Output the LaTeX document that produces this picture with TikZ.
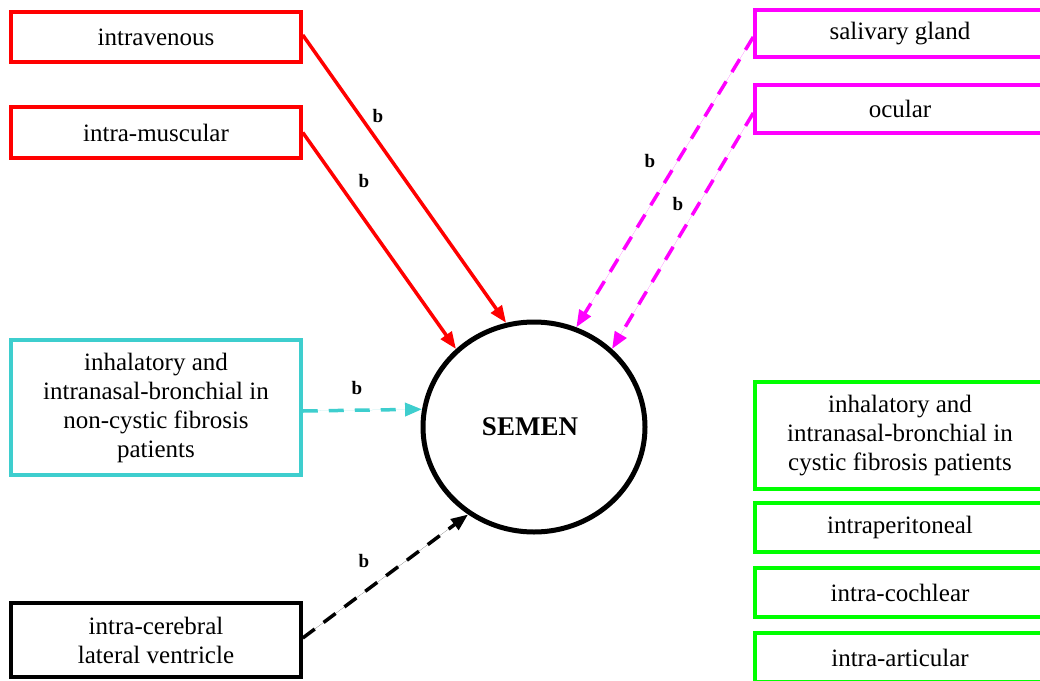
\documentclass[tikz,border=0pt]{standalone}
\usepackage{fontspec}
\setmainfont{Liberation Serif}
\usetikzlibrary{arrows.meta,shapes.geometric,calc}

\definecolor{routered}{RGB}{255,0,0}
\definecolor{routemag}{RGB}{255,0,255}
\definecolor{routecyan}{RGB}{62,206,206}
\definecolor{routegreen}{RGB}{0,255,0}

\tikzset{
  route/.style={draw=#1, line width=3.5pt, rectangle, minimum width=290pt,
    align=center, inner sep=0pt, font=\fontsize{25}{29}\selectfont},
  link/.style={draw=#1, line width=3.5pt,
    -{Triangle[length=17pt,width=13pt]}, fill=#1},
  dlink/.style={link=#1, dash pattern=on 15pt off 11pt},
  lbl/.style={font=\fontsize{19}{22}\selectfont\bfseries, inner sep=0pt},
}

\begin{document}
\begin{tikzpicture}[x=1pt,y=-1pt]
\useasboundingbox (0,0) rectangle (1040,680);
\clip (0,0) rectangle (1040,680);

% central node
\node (semen) [draw, ellipse, line width=5pt, minimum width=222pt,
  minimum height=210pt, font=\fontsize{27}{30}\selectfont\bfseries]
  at (534,427) {SEMEN\hspace*{8pt}};

% administration routes, left column
\node (iv) [route=routered, minimum height=50pt] at (156,37) {intravenous};
\node (im) [route=routered, minimum height=51pt] at (156,132.5) {intra-muscular};
\node (inh) [route=routecyan, minimum height=135pt] at (156,407.5)
  {inhalatory and\\intranasal-bronchial in\\non-cystic fibrosis\\patients};
\node (icv) [route=black, minimum height=74pt] at (156,640)
  {intra-cerebral\\lateral ventricle};

% administration routes, right column
\node (sal) [route=routemag, minimum height=47pt] at (900,33.5) {salivary gland};
\node (ocu) [route=routemag, minimum height=48pt] at (900,109) {ocular};
\node (cf) [route=routegreen, minimum height=107pt] at (900,435.5)
  {inhalatory and\\intranasal-bronchial in\\cystic fibrosis patients};
\node (ip) [route=routegreen, minimum height=49pt] at (900,527.5) {intraperitoneal};
\node (ico) [route=routegreen, minimum height=49pt] at (900,592.5) {intra-cochlear};
\node (ia) [route=routegreen, minimum height=49pt] at (900,657.5) {intra-articular};

% connectors
\draw[link=routered] ($(iv.east)+(0,-2)$) -- (semen.105);
\draw[link=routered] (im.east) -- (semen.135.5);
\draw[dlink=routemag] ($(sal.west)+(0,3.5)$) -- (semen.67);
\draw[dlink=routemag] ($(ocu.west)+(0,4)$) -- (semen.45);
\draw[dlink=routecyan] ($(inh.east)+(0,3.5)$) -- (semen.171.6);
\draw[dlink=black] ($(icv.east)+(0,-2)$) -- (semen.233);

% connector labels
\node (liv) [lbl] at (378,116) {b};
\node (lim) [lbl] at (364,181) {b};
\node (lsal) [lbl] at (650,161) {b};
\node (locu) [lbl] at (678,204) {b};
\node (linh) [lbl] at (357,388) {b};
\node (licv) [lbl] at (364,561) {b};
\end{tikzpicture}
\end{document}
